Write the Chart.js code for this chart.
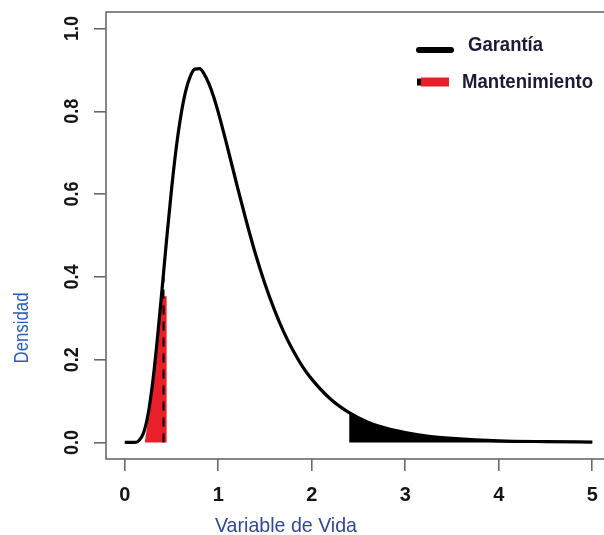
<!DOCTYPE html>
<html>
<head>
<meta charset="utf-8">
<script src="https://cdn.jsdelivr.net/npm/chart.js@4.4.1/dist/chart.umd.min.js"></script>
<style>
html,body{margin:0;padding:0;background:#fff;overflow:hidden;width:604px;height:535px;}
canvas{display:block;}
</style>
</head>
<body>
<canvas id="c" width="612" height="535"></canvas>
<script>
// ---- data ----
const xVals   = [0,0.05,0.1,0.15,0.2,0.25,0.3,0.35,0.4,0.45,0.5,0.55,0.6,0.65,0.7,0.75,0.8,0.85,0.9,0.95,1.0,1.1,1.2,1.3,1.4,1.5,1.6,1.7,1.8,1.9,2.0,2.2,2.4,2.6,2.8,3.0,3.25,3.5,4.0,4.5,5.0];
const density = [0,0,0,0.004,0.022,0.068,0.147,0.252,0.372,0.495,0.610,0.710,0.789,0.847,0.884,0.902,0.903,0.890,0.867,0.836,0.798,0.712,0.622,0.535,0.454,0.383,0.321,0.267,0.222,0.184,0.153,0.105,0.072,0.049,0.034,0.024,0.015,0.010,0.004,0.002,0.001];
const garantiaX = [2.4,2.6,2.8,3.0,3.25,3.5,4.0,4.5,5.0];
const garantiaY = [0.072,0.049,0.034,0.024,0.015,0.010,0.004,0.002,0.001];
const mantX = [0.215,0.25,0.30,0.35,0.395,0.45];
const mantY = [0,0.055,0.135,0.235,0.353,0.353];
const dashX = [0.415,0.415];
const dashY = [0,0.40];
const xTicks = [0,1,2,3,4,5];
const yTicks = [0,0.2,0.4,0.6,0.8,1.0];
const xTickLabels = ["0","1","2","3","4","5"];
const yTickLabels = ["0.0","0.2","0.4","0.6","0.8","1.0"];
const legendLabels = ["Garantía","Mantenimiento"];
const xTitle = "Variable de Vida";
const yTitle = "Densidad";

const pts = (xs, ys) => xs.map((x,i)=>({x:x, y:ys[i]}));
const AXIS = '#6a6a6a';

function drawText(ctx, text, x, y, font, color, targetW, rot, align){
  ctx.save();
  ctx.font = font;
  ctx.fillStyle = color;
  ctx.textBaseline = 'middle';
  ctx.textAlign = 'left';
  const w = ctx.measureText(text).width;
  const sx = targetW ? targetW / w : 1;
  ctx.translate(x, y);
  if (rot) ctx.rotate(rot);
  ctx.scale(sx, 1);
  let off = 0;
  if (align === 'center') off = -w/2;
  ctx.fillText(text, off, 0);
  ctx.restore();
}

const decor = {
  id: 'decor',
  afterDraw(chart){
    const ctx = chart.ctx;
    const a = chart.chartArea;
    const xs = chart.scales.x, ys = chart.scales.y;
    // box
    ctx.save();
    ctx.strokeStyle = AXIS; ctx.lineWidth = 1.6;
    ctx.strokeRect(a.left, a.top, a.right - a.left, a.bottom - a.top);
    ctx.restore();
    // tick labels
    xTicks.forEach((v,i)=>{
      drawText(ctx, xTickLabels[i], xs.getPixelForValue(v), 495, 'bold 20px "Liberation Sans", Arial, sans-serif', '#151515', null, 0, 'center');
    });
    yTicks.forEach((v,i)=>{
      drawText(ctx, yTickLabels[i], 72.5, ys.getPixelForValue(v), 'bold 20px "Liberation Sans", Arial, sans-serif', '#151515', 25, -Math.PI/2, 'center');
    });
    // axis titles
    drawText(ctx, xTitle, 286, 526, '21px "Liberation Sans", Arial, sans-serif', '#33478f', 142, 0, 'center');
    drawText(ctx, yTitle, 22, 328, '20px "Liberation Sans", Arial, sans-serif', '#2c5cb8', 71, -Math.PI/2, 'center');
    // legend
    ctx.save();
    ctx.lineCap = 'round';
    ctx.strokeStyle = '#000'; ctx.lineWidth = 6;
    ctx.beginPath(); ctx.moveTo(419, 50); ctx.lineTo(451, 50); ctx.stroke();
    ctx.lineCap = 'butt';
    ctx.strokeStyle = '#000'; ctx.lineWidth = 7;
    ctx.beginPath(); ctx.moveTo(417, 82); ctx.lineTo(424, 82); ctx.stroke();
    ctx.strokeStyle = '#e8202a'; ctx.lineWidth = 9;
    ctx.beginPath(); ctx.moveTo(421, 82); ctx.lineTo(449, 82); ctx.stroke();
    ctx.restore();
    drawText(ctx, legendLabels[0], 468, 45, 'bold 21px "Liberation Sans", Arial, sans-serif', '#1b1b36', 75, 0, 'left');
    drawText(ctx, legendLabels[1], 462, 82, 'bold 21px "Liberation Sans", Arial, sans-serif', '#1b1b36', 131, 0, 'left');
  }
};

new Chart(document.getElementById('c'), {
  type: 'line',
  data: {
    datasets: [
      { label: 'curva', data: pts(xVals, density), borderColor: '#000', borderWidth: 3.2,
        pointRadius: 0, cubicInterpolationMode: 'monotone', fill: false, order: 0 },
      { label: 'corte', data: pts(dashX, dashY), borderColor: '#000', borderWidth: 2,
        borderDash: [9,7], pointRadius: 0, fill: false, order: 1 },
      { label: legendLabels[1], data: pts(mantX, mantY), borderWidth: 0, borderColor: 'rgba(0,0,0,0)',
        backgroundColor: '#e8202a', pointRadius: 0, fill: 'origin', order: 2 },
      { label: legendLabels[0], data: pts(garantiaX, garantiaY), borderWidth: 1, borderColor: '#000',
        backgroundColor: '#000', pointRadius: 0, cubicInterpolationMode: 'monotone', fill: 'origin', order: 3 }
    ]
  },
  options: {
    responsive: false,
    animation: false,
    devicePixelRatio: 1,
    layout: { padding: { top: 12, right: 1, left: 0, bottom: 0 } },
    plugins: { legend: { display: false }, tooltip: { enabled: false } },
    scales: {
      x: {
        type: 'linear', min: -0.2, max: 5.2,
        afterBuildTicks: s => { s.ticks = xTicks.map(v => ({ value: v })); },
        afterFit: s => { s.height = 76; },
        ticks: { display: false },
        grid: { display: true, drawOnChartArea: false, drawTicks: true, tickLength: 12, color: AXIS, lineWidth: 1.6 },
        border: { display: false }
      },
      y: {
        type: 'linear', min: -0.04, max: 1.04,
        afterBuildTicks: s => { s.ticks = yTicks.map(v => ({ value: v })); },
        afterFit: s => { s.width = 106; },
        ticks: { display: false },
        grid: { display: true, drawOnChartArea: false, drawTicks: true, tickLength: 12, color: AXIS, lineWidth: 1.6 },
        border: { display: false }
      }
    }
  },
  plugins: [decor]
});
</script>
</body>
</html>
